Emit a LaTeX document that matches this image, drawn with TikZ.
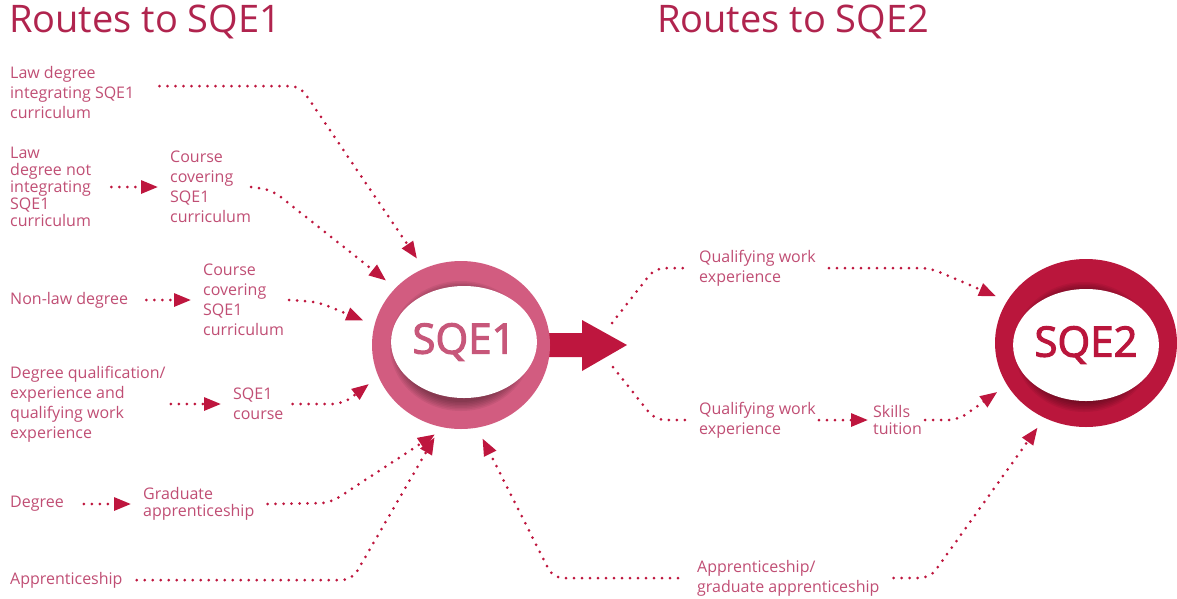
\documentclass[tikz,border=0pt]{standalone}
\usepackage{fontspec}
\setmainfont{Open Sans}
\newfontfamily\ringfont[FakeBold=2.5]{Open Sans}
\usetikzlibrary{arrows.meta,shapes.geometric}

\definecolor{routetext}{RGB}{192,78,116}
\definecolor{crimson}{RGB}{190,22,62}
\definecolor{headline}{RGB}{176,36,78}
\definecolor{ringone}{RGB}{210,92,128}
\definecolor{ringtwo}{RGB}{186,22,60}

\tikzset{
  route/.style={anchor=west, align=left, inner sep=0pt, text=routetext,
    font=\fontsize{16}{20}\selectfont},
  tight/.style={font=\fontsize{16}{17}\selectfont},
  heading/.style={anchor=west, inner sep=0pt, text=headline,
    font=\fontsize{38}{38}\selectfont},
  link/.style={crimson, line width=3pt, line cap=round,
    dash pattern=on 0pt off 8pt, rounded corners=10pt,
    -{Triangle[length=17pt,width=13pt]}, shorten >=12pt},
  feed/.style={link, -, shorten >=0pt},
  ring/.style={ellipse, inner sep=0pt},
  hole/.style={ellipse, inner sep=0pt, fill=white, minimum width=124pt,
    minimum height=112pt, font=\ringfont\fontsize{42}{42}\selectfont},
}

\begin{document}
\begin{tikzpicture}[x=1pt,y=-1pt]
\useasboundingbox (0,0) rectangle (1177,598);

% headings
\node[heading] (head1) at (9,22) {Routes to SQE1};
\node[heading] (head2) at (657,22) {Routes to SQE2};

% big arrow out of SQE1
\fill[crimson] (540,333) -- (582,333) -- (582,320) -- (627,345)
  -- (582,371) -- (582,357) -- (540,357) -- cycle;
\coordinate (up) at (612,323);
\coordinate (down) at (613,367);

% the two rings
\node[ring, fill=ringone, minimum width=178pt, minimum height=168pt] (sqe1) at (461,345) {};
\foreach \d in {0,1.5,...,9}
  \fill[black, opacity=0.06] (461,346) ellipse [x radius={62+\d}, y radius={56+\d}];
\node[hole, text=ringone!95!black] (t1) at (464,342) {SQE1};

\node[ring, fill=ringtwo, minimum width=182pt, minimum height=168pt] (sqe2) at (1086,343) {};
\foreach \d in {0,1.5,...,9}
  \fill[black, opacity=0.06] (1084,347) ellipse [x radius={61+\d}, y radius={56+\d}];
\node[hole, text=ringtwo] (t2) at (1086,345) {SQE2};

% routes to SQE1
\node[route] (lawint) at (10,92) {Law degree\\integrating SQE1\\curriculum};
\node[route, tight] (lawnot) at (10,187) {Law\\degree not\\integrating\\SQE1\\curriculum};
\node[route] (course1) at (170,187) {Course\\covering\\SQE1\\curriculum};
\node[route] (nonlaw) at (10,300) {Non-law degree};
\node[route] (course2) at (203,300) {Course\\covering\\SQE1\\curriculum};
\node[route] (degqual) at (10,404) {Degree qualification/\\experience and\\qualifying work\\experience};
\node[route] (sqecourse) at (233,404) {SQE1\\course};
\node[route] (degree) at (10,504) {Degree};
\node[route, tight] (gradapp) at (143,504) {Graduate\\apprenticeship};
\node[route] (appr) at (10,580) {Apprenticeship};

% routes to SQE2
\node[route] (qual1) at (699,268) {Qualifying work\\experience};
\node[route] (qual2) at (699,420) {Qualifying work\\experience};
\node[route, tight] (skills) at (873,420) {Skills\\tuition};
\node[route] (apprgrad) at (697,578) {Apprenticeship/\\graduate apprenticeship};

% dotted links
\draw[link] ([xshift=25pt,yshift=6pt]lawint.east) -- (300,86) -- (sqe1.116);
\draw[link] ([xshift=20pt]lawnot.east) -- (course1.west);
\draw[link] (course1.east) -- (272,190) -- (sqe1.139);
\draw[link] ([xshift=18pt]nonlaw.east) -- (course2.west);
\draw[link] ([xshift=5pt]course2.east) -- (318,302) -- (sqe1.167);
\draw[link] ([xshift=5pt]degqual.east) -- (sqecourse.west);
\draw[link] ([xshift=9pt]sqecourse.east) -- (343,404) -- (sqe1.201);
\draw[link] ([xshift=20pt]degree.east) -- (gradapp.west);
\draw[link] ([xshift=13pt]gradapp.east) -- (330,503) -- (sqe1.259);
\draw[link] ([xshift=14pt]appr.east) -- (352,580) -- (sqe1.256);

\draw[feed] (up) -- (655,268) -- ([xshift=-9pt]qual1.west);
\draw[link] ([xshift=13pt]qual1.east) -- (930,268) -- (sqe2.152);
\draw[feed] (down) -- (655,420) -- ([xshift=-9pt]qual2.west);
\draw[link] ([xshift=3pt]qual2.east) -- ([xshift=7pt]skills.west);
\draw[link] ([xshift=3pt]skills.east) -- (958,420) -- (sqe2.208);
\draw[link] ([xshift=14pt]apprgrad.east) -- (930,578) -- (sqe2.241);
\draw[link] ([xshift=-19pt]apprgrad.west) -- (553,578) -- (sqe1.281);
\end{tikzpicture}
\end{document}
